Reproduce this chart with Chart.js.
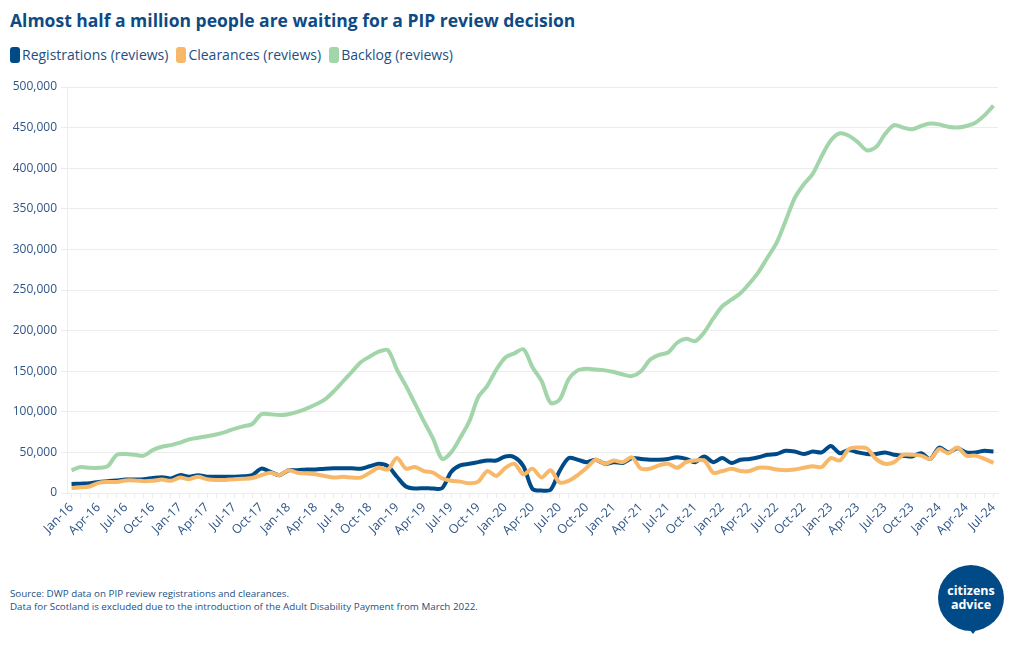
<!DOCTYPE html>
<html>
<head>
<meta charset="utf-8">
<script src="https://cdn.jsdelivr.net/npm/chart.js@4"></script>
<style>
  body { margin: 0; background: #fff; font-family: "Open Sans", sans-serif; color: #0e4a84; }
  #wrap { position: relative; width: 1020px; height: 650px; overflow: hidden; }
  #title { position: absolute; left: 10px; top: 8px; font-size: 17.5px; font-weight: 700; color: #0e4a84; white-space: nowrap; }
  #legend { position: absolute; left: 10px; top: 45px; font-size: 14px; color: #1d4f85; display: flex; white-space: nowrap; }
  #legend span.item { display: flex; align-items: center; margin-right: 8px; }
  #legend span.sw { display: inline-block; width: 10px; height: 16px; border-radius: 3px; margin-right: 2px; }
  #box { position: absolute; left: 0; top: 70px; width: 1010px; height: 480px; }
  #foot { position: absolute; left: 10px; top: 587px; font-size: 9.8px; line-height: 13px; color: #1d4f85; }
  #logo { position: absolute; left: 934px; top: 563px; }
</style>
</head>
<body>
<div id="wrap">
  <div id="title">Almost half a million people are waiting for a PIP review decision</div>
  <div id="legend"></div>
  <div id="box"><canvas id="grafico"></canvas></div>
  <div id="foot">Source: DWP data on PIP review registrations and clearances.<br>Data for Scotland is excluded due to the introduction of the Adult Disability Payment from March 2022.</div>
  <svg id="logo" width="76" height="76" viewBox="0 0 76 76">
    <circle cx="37" cy="35" r="33" fill="#004b87"/>
    <path d="M30 60 L39 71 L46 62 Z" fill="#004b87"/>
    <text x="37" y="32" text-anchor="middle" font-family="Open Sans" font-weight="700" font-size="12.5" fill="#fff">citizens</text>
    <text x="37" y="46" text-anchor="middle" font-family="Open Sans" font-weight="700" font-size="12.5" fill="#fff">advice</text>
  </svg>
</div>
<script>
// meses y años del eje x (Jan-16 .. Jul-24)
const meses = ["Jan", "Feb", "Mar", "Apr", "May", "Jun", "Jul", "Aug", "Sep", "Oct", "Nov", "Dec"];
const anios = ["16", "17", "18", "19", "20", "21", "22", "23", "24"];

const etiquetas = [];
anios.forEach(a => {
  meses.forEach(m => {
    if (etiquetas.length < 103) etiquetas.push(m + "-" + a);
  });
});

const registros = [
  11000, 11500, 12000, 13500, 14500, 15500, 16500, 16500, 17000, 18500, 19500, 18000,
  22000, 20000, 22000, 20000, 20000, 20000, 20000, 20500, 22000, 30000, 26000, 22000,
  28000, 28000, 29000, 29000, 30000, 30500, 30500, 30500, 30000, 33000, 36000, 33000,
  20000, 8000, 5500, 6000, 5500, 6000, 26000, 34000, 36000, 38000, 40000, 40000,
  45000, 44000, 33000, 5000, 3000, 4000, 27000, 43000, 41000, 38000, 41000, 36000,
  38000, 37000, 43000, 42000, 41000, 41000, 42000, 44000, 42000, 38000, 45000, 38000,
  43000, 37000, 41000, 42000, 44000, 47000, 48000, 52000, 51000, 48000, 51000, 50000,
  58000, 49000, 53000, 50000, 48000, 48000, 50000, 47000, 46000, 45000, 49000, 42000,
  56000, 50000, 55000, 50000, 50000, 52000, 51000
];

const despachos = [
  6000, 7000, 8000, 12500, 13500, 13500, 15500, 15500, 14500, 15000, 16500, 15000,
  19000, 17000, 20000, 17000, 16000, 16000, 17000, 17500, 18500, 22000, 25000, 22000,
  28000, 25000, 24000, 23000, 21000, 19000, 20000, 19000, 19000, 25000, 31000, 29000,
  43000, 30000, 32000, 27000, 25000, 18000, 15000, 14000, 12000, 14000, 27000, 21000,
  31000, 36000, 23000, 30000, 19000, 28000, 13000, 15000, 22000, 31000, 41000, 36000,
  40000, 38000, 44000, 30000, 30000, 34000, 36000, 31000, 38000, 40000, 40000, 25000,
  27000, 30000, 27000, 27000, 31000, 31000, 29000, 28000, 29000, 31000, 33000, 32000,
  43000, 40000, 54000, 56000, 55000, 42000, 36000, 38000, 47000, 47000, 46000, 42000,
  54000, 49000, 56000, 46000, 46000, 42000, 37000
];

const pendientes = [
  28000, 32000, 31000, 31000, 33000, 47000, 48000, 47000, 46000, 53000, 57000, 59000,
  62000, 66000, 68000, 70000, 72000, 75000, 79000, 82000, 85000, 97000, 97000, 96000,
  97000, 100000, 104000, 109000, 115000, 125000, 137000, 149000, 161000, 168000, 174000, 176000,
  152000, 132000, 110000, 88000, 67000, 42000, 50000, 68000, 88000, 118000, 132000, 152000,
  167000, 172000, 177000, 155000, 138000, 111000, 115000, 140000, 151000, 153000, 152000, 151000,
  149000, 146000, 144000, 150000, 164000, 170000, 173000, 185000, 190000, 187000, 198000, 215000,
  230000, 238000, 246000, 258000, 272000, 290000, 308000, 335000, 363000, 380000, 393000, 415000,
  434000, 443000, 440000, 432000, 422000, 426000, 442000, 453000, 450000, 448000, 452000, 455000,
  454000, 451000, 450000, 452000, 456000, 465000, 477000
];

const series = [
  { nombre: "Registrations (reviews)", datos: registros, color: "#004b87", orden: 2 },
  { nombre: "Clearances (reviews)", datos: despachos, color: "#f7b969", orden: 1 },
  { nombre: "Backlog (reviews)", datos: pendientes, color: "#a2d5a9", orden: 3 }
];

// leyenda en html
const leyenda = document.getElementById("legend");
series.forEach(s => {
  const item = document.createElement("span");
  item.classList.add("item");
  item.innerHTML = `<span class="sw" style="background:${s.color}"></span>${s.nombre}`;
  leyenda.appendChild(item);
});

const colorTexto = "#2f5588";
const colorGrid = "#ececec";

new Chart(document.getElementById("grafico"), {
  type: "line",
  data: {
    labels: etiquetas,
    datasets: series.map(s => ({
      label: s.nombre,
      data: s.datos,
      borderColor: s.color,
      backgroundColor: s.color,
      borderWidth: 4,
      pointRadius: 0,
      tension: 0.3,
      order: s.orden
    }))
  },
  options: {
    responsive: true,
    maintainAspectRatio: false,
    animation: false,
    layout: { padding: { top: 17, right: 12, left: 0, bottom: 0 } },
    plugins: {
      legend: { display: false },
      tooltip: { enabled: false }
    },
    scales: {
      x: {
        offset: true,
        afterFit: scale => { scale.height = 57; },
        grid: { drawOnChartArea: false, color: colorGrid, tickLength: 5 },
        border: { color: colorGrid },
        ticks: {
          autoSkip: false,
          maxRotation: 45,
          minRotation: 45,
          padding: 2,
          color: colorTexto,
          font: { family: "Open Sans", size: 12.5 },
          callback: function (v, i) {
            return i % 3 === 0 ? etiquetas[i] : "";
          }
        }
      },
      y: {
        min: 0,
        max: 500000,
        afterFit: scale => { scale.width = 67; },
        grid: { color: colorGrid, tickLength: 6 },
        border: { color: colorGrid },
        ticks: {
          stepSize: 50000,
          padding: 4,
          color: colorTexto,
          font: { family: "Open Sans", size: 12 },
          callback: v => v.toLocaleString("en-GB")
        }
      }
    }
  }
});
</script>
</body>
</html>
